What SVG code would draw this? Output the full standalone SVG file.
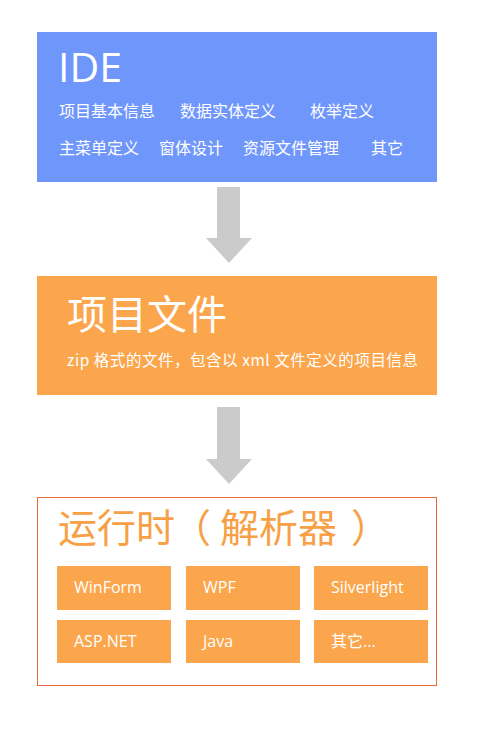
<svg xmlns="http://www.w3.org/2000/svg" width="482" height="732" viewBox="0 0 482 732">
<style>
.lat{font-family:"Open Sans","Noto Sans","Noto Sans CJK SC",sans-serif;}
.cjk{font-family:"Noto Sans CJK SC","Noto Sans",sans-serif;}
.w{fill:#ffffff;}
.item{font-family:"Open Sans","Noto Sans","Noto Sans CJK SC",sans-serif;font-size:16px;fill:#ffffff;}
.sub{fill:#fba64c;}
.arrow{fill:#cbcbcb;}
</style>
<rect width="482" height="732" fill="#ffffff"/>
<g id="connectors">
<polygon class="arrow" points="217,187 240,187 240,238 252,238 229,263 206,238 217,238"/>
<polygon class="arrow" points="217,407 240,407 240,459 252,459 229,484 206,459 217,459"/>
</g>
<g id="ide">
<rect x="37" y="32" width="400" height="150" fill="#6f96fb"/>
<text class="lat w" x="58" y="82" font-size="41">IDE</text>
<text class="cjk w" font-size="16" y="117"><tspan x="59">项目基本信息</tspan><tspan x="180">数据实体定义</tspan><tspan x="310">枚举定义</tspan></text>
<text class="cjk w" font-size="16" y="154"><tspan x="59">主菜单定义</tspan><tspan x="159">窗体设计</tspan><tspan x="243">资源文件管理</tspan><tspan x="371">其它</tspan></text>
</g>
<g id="project-file">
<rect x="37" y="276" width="400" height="119" fill="#fba64c"/>
<text class="cjk w" x="67" y="329" font-size="40">项目文件</text>
<text class="cjk w" x="67" y="366" font-size="15.5" textLength="351" lengthAdjust="spacing">zip 格式的文件，包含以 xml 文件定义的项目信息</text>
</g>
<g id="runtime">
<rect x="37.5" y="497.5" width="399" height="188" fill="#ffffff" stroke="#e8683a" stroke-width="1"/>
<text class="cjk" y="542" font-size="39" fill="#f7a045"><tspan x="58">运行时</tspan><tspan x="172">（</tspan><tspan x="220">解析器</tspan><tspan x="351">）</tspan></text>
</g>
<g id="winform"><rect class="sub" x="57" y="566" width="114" height="44"/><text class="item" x="74" y="593">WinForm</text></g>
<g id="wpf"><rect class="sub" x="186" y="566" width="114" height="44"/><text class="item" x="203" y="593">WPF</text></g>
<g id="silverlight"><rect class="sub" x="314" y="566" width="114" height="44"/><text class="item" x="331" y="593">Silverlight</text></g>
<g id="aspnet"><rect class="sub" x="57" y="620" width="114" height="43"/><text class="item" x="74" y="647">ASP.NET</text></g>
<g id="java"><rect class="sub" x="186" y="620" width="114" height="43"/><text class="item" x="203" y="647">Java</text></g>
<g id="other"><rect class="sub" x="314" y="620" width="114" height="43"/><text class="item" x="331" y="647">其它...</text></g>
</svg>
